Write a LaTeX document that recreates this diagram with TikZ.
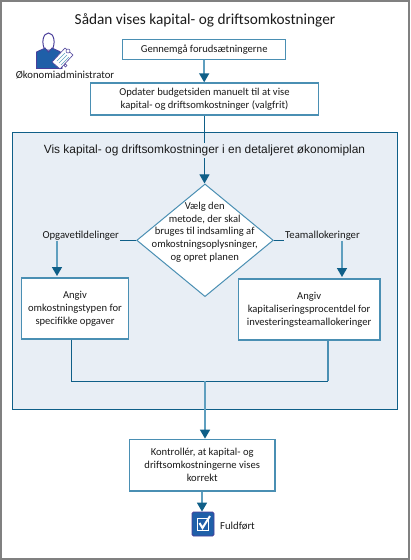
\documentclass[tikz,border=0pt]{standalone}
\usepackage{fontspec}
\setmainfont{Carlito}
\newfontfamily\panelfont{Liberation Sans}
\usetikzlibrary{arrows.meta,shapes.geometric}
\definecolor{frameg}{HTML}{808080}
\definecolor{panelb}{HTML}{E8EEF5}
\definecolor{dk}{HTML}{0F5F88}
\definecolor{lt}{HTML}{5F9FBF}
\definecolor{edge}{HTML}{4A8FB3}
\definecolor{ink}{HTML}{1A1A1A}
\definecolor{iconb}{HTML}{1F5FA8}
\definecolor{iconp}{HTML}{4B3F9A}
\tikzset{
 x=1pt,y=-1pt,
 stepbox/.style={draw=edge,line width=1.4pt,fill=white,align=center,inner sep=0pt,text=ink,font=\fontsize{10.6}{13}\selectfont},
 lab/.style={text=ink,inner sep=0pt,font=\fontsize{10.7}{13}\selectfont},
 flow/.style={draw=lt,line width=1.6pt,-{Triangle[length=9pt,width=10pt,color=dk]}},
 flowdark/.style={draw=dk,line width=1pt,-{Triangle[length=9pt,width=10pt,color=dk]}},
 plain/.style={draw=dk,line width=1pt},
 plainlt/.style={draw=edge,line width=1.2pt},
}
\begin{document}
\begin{tikzpicture}
\useasboundingbox (0,0) rectangle (410,560);
\draw[frameg,line width=2pt] (1,1) rectangle (409,559);
\node[text=ink,inner sep=0pt,font=\fontsize{15.3}{18}\selectfont] (title) at (205,20.5) {Sådan vises kapital- og driftsomkostninger};
\node[draw=dk,line width=1pt,fill=panelb,minimum width=385pt,minimum height=276.5pt,inner sep=0pt] (panel) at (205,270.75) {};
\node[stepbox,minimum width=163pt,minimum height=19.5pt] (review) at (204.2,49.5) {Gennemgå forudsætningerne};
\node[stepbox,minimum width=227.5pt,minimum height=32pt] (update) at (204.5,99) {Opdater budgetsiden manuelt til at vise\\kapital- og driftsomkostninger (valgfrit)};
\node[diamond,draw=edge,line width=1pt,fill=white,inner sep=0pt,minimum width=136.6pt,minimum height=112.7pt] (dec) at (205,240.3) {};
\node[align=center,text=ink,inner sep=0pt,font=\fontsize{10.6}{12.7}\selectfont] (dectext) at (204.7,232) {Vælg den\\metode, der skal\\bruges til indsamling af\\omkostningsoplysninger,\\og opret planen};
\node[stepbox,minimum width=106.6pt,minimum height=61pt] (task) at (75,308.5) {Angiv\\omkostningstypen for\\specifikke opgaver};
\node[stepbox,minimum width=141.7pt,minimum height=61pt] (team) at (309.1,309.5) {Angiv\\kapitaliseringsprocentdel for\\investeringsteamallokeringer};
\node[stepbox,minimum width=145.7pt,minimum height=51.7pt] (check) at (202.2,465.2) {Kontrollér, at kapital- og\\driftsomkostningerne vises\\korrekt};
\node[lab] (optask) at (80.7,236) {Opgavetildelinger};
\node[lab] (opteam) at (322.5,236) {Teamallokeringer};
\node[lab,anchor=west] (done) at (220,526) {Fuldført};
\node[lab] (role) at (65,75.5) {Økonomiadministrator};
% icon: person with clipboard
\draw[iconp,line width=1pt,fill=white] (45,50) .. controls (41,43) and (43,33) .. (48.5,33) .. controls (54,33) and (56,43) .. (52,50) -- cycle;
\draw[iconp,line width=.8pt,fill=iconb] (36.5,68.5) -- (36.5,52) .. controls (40,50) and (44,49) .. (45,48) -- (48.5,52) -- (52,48) .. controls (55,50) and (58,50) .. (62,53) -- (62,68.5) -- cycle;
\draw[iconp,line width=.6pt,fill=white] (52,62) -- (65,48) -- (73,55) -- (60,69) -- cycle;
\draw[lt,line width=.5pt] (57,61) -- (65,53) (59,63) -- (67,55) (61,65) -- (69,57);
\draw[iconp,fill=white,line width=.5pt] (68,51) circle (2pt);
\draw[iconp,fill=white,line width=.5pt] (65.5,65.5) circle (1.5pt);
% complete icon
\node[draw=iconp,line width=.8pt,fill=iconb,rounded corners=1.5pt,minimum width=22pt,minimum height=24pt,inner sep=0pt] (doneicon) at (203,524) {};
\draw[white,line width=1pt] (197,518) rectangle (208,530);
\draw[white,line width=2pt] (199.5,523) -- (202.5,528) -- (210,516);
% connectors
\coordinate (j) at (205,381.3);
\draw[flow] (204.2,0 |- review.south) -- (204.2,0 |- update.north);
\draw[flowdark] (204.5,0 |- update.south) -- (204.5,0 |- dec.north);
\draw[flow] (57,0 |- optask.south) -- (57,276);
\draw[flow] (342,0 |- opteam.south) -- (342,277);
\draw[plain] (dec.west) -- (120,0 |- dec.west);
\draw[plain] (dec.east) -- (284,0 |- dec.east);
\draw[plain] (71.5,0 |- task.south) -- (71.5,0 |- j) -- (328,0 |- j);
\draw[plainlt] (328,0 |- j) -- (328,0 |- team.south);
\draw[flow] (j) -- (205,0 |- check.north);
\draw[flow] (202,0 |- check.south) -- (202,0 |- doneicon.north);
% panel heading sits over the connector
\node[text=ink,fill=panelb,inner xsep=0pt,inner ysep=2pt,font=\panelfont\fontsize{11.9}{14}\selectfont] (ptitle) at (204.5,150.5) {Vis kapital- og driftsomkostninger i en detaljeret økonomiplan};
\end{tikzpicture}
\end{document}
